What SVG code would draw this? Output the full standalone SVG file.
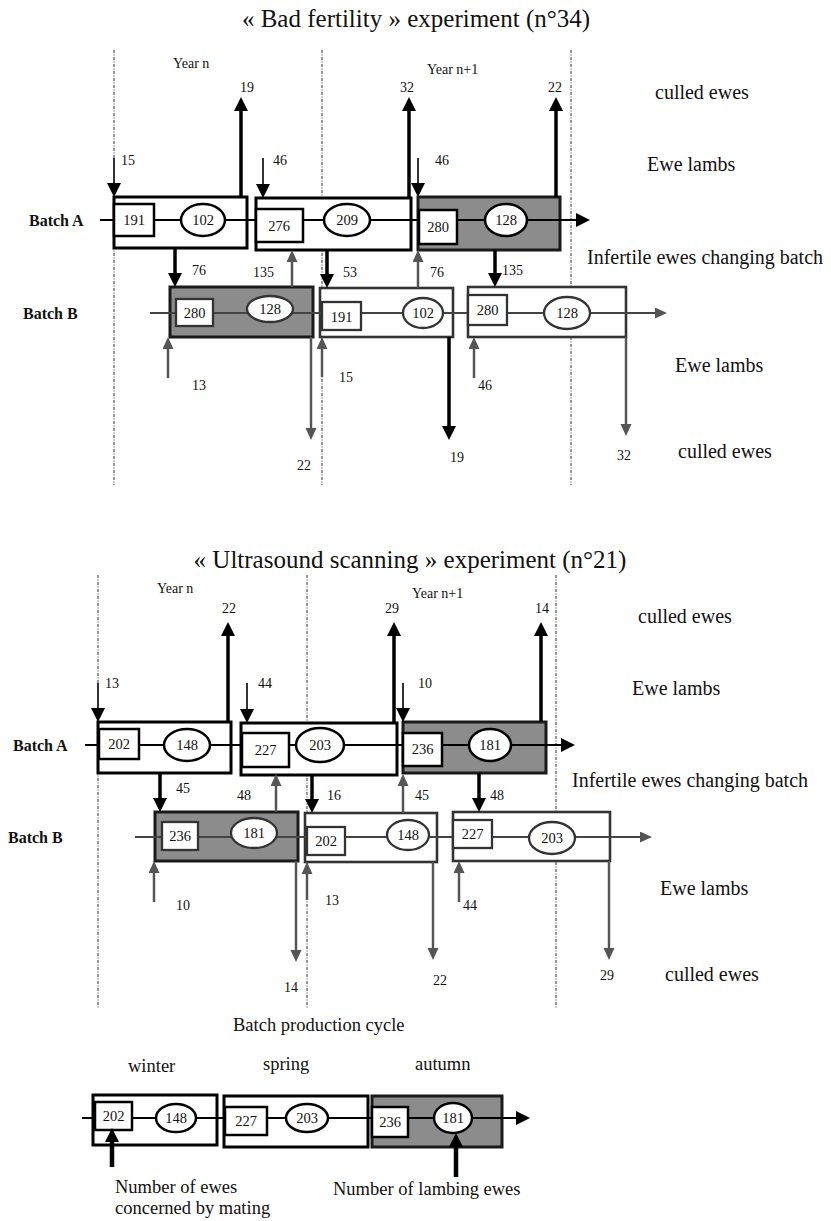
<svg xmlns="http://www.w3.org/2000/svg" width="831" height="1221" viewBox="0 0 831 1221">
<style>
text{font-family:"Liberation Serif","Times New Roman",serif;fill:#111}
.title{font-size:25px}
.side{font-size:20px}
.yr{font-size:14px}
.lab{font-size:14px}
.num{font-size:14.5px;text-anchor:middle}
.batch{font-size:16px;font-weight:bold}
.leg{font-size:18.5px}
.dash{stroke:#333;stroke-width:1;stroke-dasharray:3 1.5 1 1.5;fill:none}
.fr{fill:#fff;stroke:#000;stroke-width:3}
.frB{fill:#fff;stroke:#333;stroke-width:2.6}
.frG{fill:#8c8c8c;stroke:#1a1a1a;stroke-width:3}
.sq{fill:#fff;stroke:#000;stroke-width:2.5}
.sqB{fill:#fff;stroke:#333;stroke-width:2.3}
.row{stroke:#000;stroke-width:2;fill:none;marker-end:url(#ahK)}
.rowG{stroke:#444;stroke-width:2;fill:none;marker-end:url(#ahG)}
.seg{stroke:#000;stroke-width:2;fill:none}
.segG{stroke:#444;stroke-width:2;fill:none}
.aK{stroke:#000;stroke-width:3.5;fill:none;marker-end:url(#ahK)}
.aT{stroke:#333;stroke-width:2;fill:none;marker-end:url(#ahK)}
.aG{stroke:#555;stroke-width:2.5;fill:none;marker-end:url(#ahG)}
.aL{stroke:#000;stroke-width:4.5;fill:none;marker-end:url(#ahL)}
</style>
<defs>
<marker id="ahK" markerUnits="userSpaceOnUse" markerWidth="14" markerHeight="14" refX="2" refY="7" orient="auto"><path d="M0,0 L14,7 L0,14 z" fill="#000"/></marker>
<marker id="ahG" markerUnits="userSpaceOnUse" markerWidth="12" markerHeight="12" refX="2" refY="5.5" orient="auto"><path d="M0,0 L12,5.5 L0,11 z" fill="#555"/></marker>
<marker id="ahL" markerUnits="userSpaceOnUse" markerWidth="14" markerHeight="14" refX="2" refY="7" orient="auto"><path d="M0,0 L14,7 L0,14 z" fill="#000"/></marker>
</defs>
<rect width="831" height="1221" fill="#fff"/>

<!-- titles and labels -->
<g id="labels">
<text class="title" x="416" y="27" text-anchor="middle">« Bad fertility » experiment (n°34)</text>
<text class="title" x="410" y="568" text-anchor="middle">« Ultrasound scanning » experiment (n°21)</text>
<text class="yr" x="173" y="68">Year n</text>
<text class="yr" x="427" y="74">Year n+1</text>
<text class="yr" x="157" y="593">Year n</text>
<text class="yr" x="412" y="598">Year n+1</text>
<text class="batch" x="29" y="226">Batch A</text>
<text class="batch" x="23" y="319">Batch B</text>
<text class="batch" x="13" y="751">Batch A</text>
<text class="batch" x="8" y="843">Batch B</text>
<text class="side" x="655" y="99">culled ewes</text>
<text class="side" x="647" y="171">Ewe lambs</text>
<text class="side" x="587" y="264">Infertile ewes changing batch</text>
<text class="side" x="675" y="372">Ewe lambs</text>
<text class="side" x="678" y="458">culled ewes</text>
<text class="side" x="638" y="623">culled ewes</text>
<text class="side" x="632" y="695">Ewe lambs</text>
<text class="side" x="572" y="787">Infertile ewes changing batch</text>
<text class="side" x="660" y="895">Ewe lambs</text>
<text class="side" x="665" y="981">culled ewes</text>
<text class="leg" x="233" y="1031">Batch production cycle</text>
<text class="leg" x="128" y="1072">winter</text>
<text class="leg" x="263" y="1070">spring</text>
<text class="leg" x="415" y="1070">autumn</text>
<text class="leg" x="115" y="1193">Number of ewes</text>
<text class="leg" x="115" y="1214">concerned by mating</text>
<text class="leg" x="333" y="1195">Number of lambing ewes</text>
<!-- flow numbers top -->
<text class="lab" x="240" y="92">19</text>
<text class="lab" x="400" y="92">32</text>
<text class="lab" x="548" y="92">22</text>
<text class="lab" x="121" y="165">15</text>
<text class="lab" x="273" y="165">46</text>
<text class="lab" x="435" y="165">46</text>
<text class="lab" x="192" y="275">76</text>
<text class="lab" x="253" y="277">135</text>
<text class="lab" x="343" y="277">53</text>
<text class="lab" x="430" y="277">76</text>
<text class="lab" x="502" y="275">135</text>
<text class="lab" x="192" y="390">13</text>
<text class="lab" x="339" y="382">15</text>
<text class="lab" x="297" y="470">22</text>
<text class="lab" x="450" y="462">19</text>
<text class="lab" x="478" y="390">46</text>
<text class="lab" x="617" y="460">32</text>
<!-- flow numbers bottom -->
<text class="lab" x="222" y="613">22</text>
<text class="lab" x="385" y="613">29</text>
<text class="lab" x="535" y="613">14</text>
<text class="lab" x="105" y="688">13</text>
<text class="lab" x="258" y="688">44</text>
<text class="lab" x="418" y="688">10</text>
<text class="lab" x="176" y="793">45</text>
<text class="lab" x="237" y="800">48</text>
<text class="lab" x="327" y="800">16</text>
<text class="lab" x="415" y="800">45</text>
<text class="lab" x="490" y="800">48</text>
<text class="lab" x="176" y="910">10</text>
<text class="lab" x="325" y="905">13</text>
<text class="lab" x="463" y="910">44</text>
<text class="lab" x="284" y="992">14</text>
<text class="lab" x="433" y="985">22</text>
<text class="lab" x="600" y="980">29</text>
</g>

<!-- season dividers -->
<g id="dividers">
<line class="dash" x1="114" y1="50" x2="114" y2="485"/>
<line class="dash" x1="322" y1="50" x2="322" y2="485"/>
<line class="dash" x1="571" y1="50" x2="571" y2="485"/>
<line class="dash" x1="98" y1="575" x2="98" y2="1008"/>
<line class="dash" x1="307" y1="575" x2="307" y2="1008"/>
<line class="dash" x1="556" y1="575" x2="556" y2="1008"/>
</g>

<!-- batch period frames -->
<g id="frames">
<rect id="t-A1" class="fr" x="114" y="197" width="133" height="51"/>
<rect id="t-A2" class="fr" x="256" y="198" width="155" height="52"/>
<rect id="t-A3" class="frG" x="418" y="197" width="142" height="53"/>
<rect id="t-B1" class="frG" x="170" y="287" width="143" height="50"/>
<rect id="t-B2" class="frB" x="320" y="288" width="133" height="49"/>
<rect id="t-B3" class="frB" x="468" y="287" width="158" height="50"/>
<rect id="b-A1" class="fr" x="98" y="722" width="133" height="51"/>
<rect id="b-A2" class="fr" x="241" y="723" width="156" height="52"/>
<rect id="b-A3" class="frG" x="403" y="722" width="143" height="51"/>
<rect id="b-B1" class="frG" x="155" y="812" width="143" height="49"/>
<rect id="b-B2" class="frB" x="305" y="813" width="132" height="49"/>
<rect id="b-B3" class="frB" x="453" y="812" width="157" height="49"/>
<rect id="l-1" class="fr" x="93" y="1095" width="124" height="50"/>
<rect id="l-2" class="fr" x="224" y="1096" width="144" height="51"/>
<rect id="l-3" class="frG" x="372" y="1096" width="130" height="51"/>
</g>

<!-- batch timelines -->
<g id="connectors-rows">
<path class="row" d="M100,220 H578"/>
<path class="rowG" d="M150,313 H657"/>
<path class="row" d="M85,745 H563"/>
<path class="rowG" d="M135,837 H642"/>
<path class="row" d="M82,1118 H518"/>
</g>

<!-- nodes: mated ewes (squares) and lambing ewes (ellipses) -->
<g id="n-t191a"><rect class="sq" x="114" y="204" width="40" height="32"/><text class="num" x="134" y="225">191</text></g>
<g id="n-t102a"><ellipse class="sq" cx="203" cy="220" rx="22" ry="16"/><text class="num" x="203" y="225">102</text></g>
<g id="n-t276"><rect class="sq" x="256" y="209" width="47" height="33"/><text class="num" x="279" y="231">276</text></g>
<g id="n-t209"><ellipse class="sq" cx="347" cy="220" rx="23" ry="16"/><text class="num" x="347" y="225">209</text></g>
<g id="n-t280a"><rect class="sq" x="419" y="210" width="38" height="34"/><text class="num" x="438" y="232">280</text></g>
<g id="n-t128a"><ellipse class="sq" cx="506" cy="220" rx="21" ry="16"/><text class="num" x="506" y="225">128</text></g>
<g id="n-t280b"><rect class="sqB" x="176" y="299" width="37" height="27"/><text class="num" x="194.5" y="318">280</text></g>
<g id="n-t128b"><ellipse class="sqB" cx="270" cy="309" rx="23" ry="13"/><text class="num" x="270" y="314">128</text></g>
<g id="n-t191b"><rect class="sqB" x="322" y="302" width="39" height="28"/><text class="num" x="341.5" y="322">191</text></g>
<g id="n-t102b"><ellipse class="sqB" cx="423" cy="313" rx="20" ry="15"/><text class="num" x="423" y="318">102</text></g>
<g id="n-t280c"><rect class="sqB" x="468" y="295" width="39" height="30"/><text class="num" x="487.5" y="315">280</text></g>
<g id="n-t128c"><ellipse class="sqB" cx="567" cy="313" rx="23" ry="16"/><text class="num" x="567" y="318">128</text></g>

<g id="n-b202a"><rect class="sq" x="99" y="729" width="40" height="30"/><text class="num" x="119" y="749">202</text></g>
<g id="n-b148a"><ellipse class="sq" cx="187" cy="745" rx="23" ry="16"/><text class="num" x="187" y="750">148</text></g>
<g id="n-b227a"><rect class="sq" x="242" y="733" width="47" height="34"/><text class="num" x="265.5" y="755">227</text></g>
<g id="n-b203a"><ellipse class="sq" cx="320" cy="745" rx="24" ry="17"/><text class="num" x="320" y="750">203</text></g>
<g id="n-b236a"><rect class="sq" x="403" y="733" width="39" height="33"/><text class="num" x="422.5" y="754">236</text></g>
<g id="n-b181a"><ellipse class="sq" cx="490" cy="745" rx="21" ry="16"/><text class="num" x="490" y="750">181</text></g>
<g id="n-b236b"><rect class="sqB" x="162" y="822" width="36" height="28"/><text class="num" x="180" y="841">236</text></g>
<g id="n-b181b"><ellipse class="sqB" cx="254" cy="833" rx="23" ry="15"/><text class="num" x="254" y="838">181</text></g>
<g id="n-b202b"><rect class="sqB" x="307" y="827" width="38" height="28"/><text class="num" x="326" y="846">202</text></g>
<g id="n-b148b"><ellipse class="sqB" cx="408" cy="835" rx="21" ry="15"/><text class="num" x="408" y="840">148</text></g>
<g id="n-b227b"><rect class="sqB" x="453" y="820" width="39" height="28"/><text class="num" x="472.5" y="839">227</text></g>
<g id="n-b203b"><ellipse class="sqB" cx="552" cy="838" rx="23" ry="16"/><text class="num" x="552" y="843">203</text></g>

<g id="n-l202"><rect class="sq" x="95" y="1102" width="37" height="28"/><text class="num" x="113.5" y="1121">202</text></g>
<g id="n-l148"><ellipse class="sq" cx="176" cy="1118" rx="20" ry="14"/><text class="num" x="176" y="1123">148</text></g>
<g id="n-l227"><rect class="sq" x="225" y="1107" width="42" height="28"/><text class="num" x="246" y="1126">227</text></g>
<g id="n-l203"><ellipse class="sq" cx="307" cy="1118" rx="21" ry="14"/><text class="num" x="307" y="1123">203</text></g>
<g id="n-l236"><rect class="sq" x="372" y="1107" width="36" height="30"/><text class="num" x="390" y="1127">236</text></g>
<g id="n-l181"><ellipse class="sq" cx="453" cy="1118" rx="19" ry="15"/><text class="num" x="453" y="1123">181</text></g>

<!-- flows -->
<g id="connectors">
<line class="aT" x1="114" y1="158" x2="114" y2="185"/>
<line class="aK" x1="241" y1="197" x2="241" y2="109"/>
<line class="aT" x1="263" y1="158" x2="263" y2="186"/>
<line class="aK" x1="409" y1="198" x2="409" y2="109"/>
<line class="aT" x1="418" y1="158" x2="418" y2="185"/>
<line class="aK" x1="556" y1="197" x2="556" y2="109"/>
<line class="aK" x1="175" y1="248" x2="175" y2="275"/>
<line class="aG" x1="292" y1="287" x2="292" y2="260"/>
<line class="aK" x1="327" y1="250" x2="327" y2="276"/>
<line class="aG" x1="418" y1="288" x2="418" y2="260"/>
<line class="aK" x1="495" y1="250" x2="495" y2="275"/>
<line class="aG" x1="168" y1="378" x2="168" y2="347"/>
<line class="aG" x1="311" y1="337" x2="311" y2="430"/>
<line class="aG" x1="322" y1="377" x2="322" y2="347"/>
<line class="aK" x1="449" y1="337" x2="449" y2="428"/>
<line class="aG" x1="474" y1="378" x2="474" y2="347"/>
<line class="aG" x1="626" y1="337" x2="626" y2="426"/>

<line class="aT" x1="98" y1="683" x2="98" y2="710"/>
<line class="aK" x1="228" y1="722" x2="228" y2="634"/>
<line class="aT" x1="247" y1="683" x2="247" y2="711"/>
<line class="aK" x1="394" y1="723" x2="394" y2="634"/>
<line class="aT" x1="403" y1="683" x2="403" y2="710"/>
<line class="aK" x1="541" y1="722" x2="541" y2="634"/>
<line class="aK" x1="160" y1="773" x2="160" y2="800"/>
<line class="aG" x1="276" y1="812" x2="276" y2="784"/>
<line class="aK" x1="312" y1="775" x2="312" y2="801"/>
<line class="aG" x1="403" y1="813" x2="403" y2="784"/>
<line class="aK" x1="479" y1="773" x2="479" y2="800"/>
<line class="aG" x1="154" y1="902" x2="154" y2="871"/>
<line class="aG" x1="296" y1="861" x2="296" y2="952"/>
<line class="aG" x1="307" y1="900" x2="307" y2="872"/>
<line class="aG" x1="433" y1="862" x2="433" y2="950"/>
<line class="aG" x1="459" y1="902" x2="459" y2="871"/>
<line class="aG" x1="609" y1="861" x2="609" y2="950"/>

<line class="aL" x1="112" y1="1167" x2="112" y2="1140"/>
<line class="aL" x1="456" y1="1177" x2="456" y2="1145"/>
</g>
</svg>
